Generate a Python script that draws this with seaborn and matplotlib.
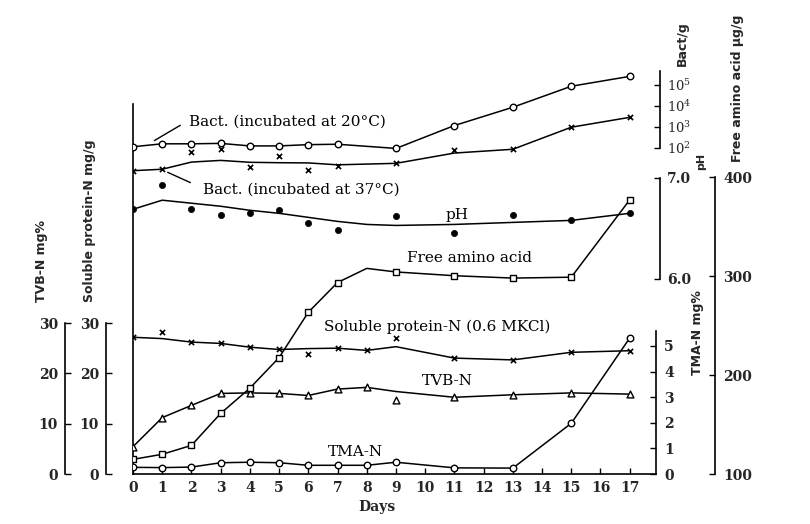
import matplotlib
matplotlib.use("Agg")
import matplotlib.pyplot as plt
import seaborn as sns
from matplotlib.ticker import NullLocator

# ---------------- data ----------------
days_a = [0, 1, 2, 3, 4, 5, 6, 7, 9, 11, 13, 15, 17]
days_b = [0, 1, 2, 3, 4, 5, 6, 7, 8, 9, 11, 13, 15, 17]

bact20_log = [2.06, 2.20, 2.20, 2.22, 2.10, 2.10, 2.16, 2.18, 1.98, 3.07, 3.94, 4.94, 5.41]
bact37_log = [0.92, 0.99, 1.80, 1.93, 1.09, 1.63, 0.97, 1.15, 1.27, 1.90, 1.94, 2.99, 3.46]
bact37_curve_log = [0.92, 0.99, 1.33, 1.41, 1.32, 1.30, 1.29, 1.20, 1.27, 1.76, 1.94, 2.99, 3.46]

ph_vals = [6.69, 6.93, 6.69, 6.63, 6.65, 6.68, 6.55, 6.48, 6.62, 6.46, 6.63, 6.58, 6.65]
ph_curve = [6.69, 6.78, 6.75, 6.72, 6.68, 6.65, 6.61, 6.57, 6.54, 6.53, 6.54, 6.56, 6.58, 6.65]

faa_vals = [114.8, 119.9, 128.9, 161.2, 186.7, 217.6, 263.4, 293.4, 304.1, 300.3, 297.9, 298.8, 376.9]
faa_curve = [114.8, 119.9, 128.9, 161.2, 186.7, 217.6, 263.4, 293.4, 307.7, 304.1, 300.3, 297.9, 298.8, 376.9]

sol_vals = [27.18, 28.25, 26.22, 25.96, 25.21, 24.75, 23.86, 25.01, 24.57, 26.98, 23.04, 22.68, 24.19, 24.51]
sol_curve = [27.18, 26.92, 26.22, 25.96, 25.21, 24.75, 24.93, 25.01, 24.57, 25.31, 23.04, 22.68, 24.19, 24.51]

tvb_vals = [5.43, 11.21, 13.64, 16.02, 16.12, 16.02, 15.61, 16.88, 17.22, 14.73, 15.25, 15.75, 16.12, 15.88]
tvb_curve = [5.43, 11.21, 13.64, 16.02, 16.12, 16.02, 15.61, 16.88, 17.22, 16.40, 15.25, 15.75, 16.12, 15.88]

tma_vals = [0.26, 0.25, 0.27, 0.44, 0.46, 0.44, 0.34, 0.34, 0.34, 0.46, 0.24, 0.23, 1.98, 5.31]

day_ticks = list(range(0, 18))
tvb_ticks = [0, 10, 20, 30]
sol_ticks = [0, 10, 20, 30]
tma_ticks = [0, 1, 2, 3, 4, 5]
ph_ticks = [6.0, 7.0]
faa_ticks = [100, 200, 300, 400]
bact_ticks = [1e2, 1e3, 1e4, 1e5]
bact_labels = [r"$10^{2}$", r"$10^{3}$", r"$10^{4}$", r"$10^{5}$"]

# ---------------- style ----------------
sns.set_theme(style="white")
plt.rcParams["font.family"] = ["DejaVu Serif", "DejaVu Sans"]
plt.rcParams["mathtext.fontset"] = "dejavuserif"

W, H = 810, 524
fig = plt.figure(figsize=(W / 100, H / 100), dpi=100)
fig.patch.set_facecolor("white")
L_px, R_px, B_px, T_px = 133, 656, 474, 60
rect = [L_px / W, 1 - B_px / H, (R_px - L_px) / W, (B_px - T_px) / H]

ax = fig.add_axes(rect, label="main")
ax.set_facecolor("none")
ax.set_xlim(0, 17.9)
ax.set_ylim(0, 82.3)

TICKFONT = dict(fontsize=10, fontweight="bold", family="DejaVu Serif")
LABFONT = dict(fontsize=9, fontweight="bold", family="DejaVu Sans")
LW = 1.1
S_OPEN = 22


def twin(name):
    a = fig.add_axes(rect, sharex=ax, label=name)
    a.patch.set_visible(False)
    for s in a.spines.values():
        s.set_visible(False)
    a.tick_params(axis="x", which="both", bottom=False, top=False,
                  labelbottom=False, labeltop=False)
    a.grid(False)
    return a


# main axis: days + vertical line at day 0
for side in ("top", "right"):
    ax.spines[side].set_visible(False)
for s in ("left", "bottom"):
    ax.spines[s].set_color("black")
    ax.spines[s].set_linewidth(1.2)
ax.spines["left"].set_bounds(0, 73.6)
ax.spines["bottom"].set_bounds(0, 17.9)
ax.set_yticks([])
ax.set_xticks(day_ticks, [str(d) for d in day_ticks], **TICKFONT)
ax.tick_params(axis="x", direction="in", length=4, width=1, pad=5,
               color="black", bottom=True)
ax.set_xlabel("Days", fontsize=10, fontweight="bold", family="DejaVu Serif",
              va="top")
ax.xaxis.set_label_coords((377 - L_px) / (R_px - L_px), -0.064)
ax.grid(False)

# ---- TVB-N (left outer) ----
a_tvb = twin("tvb")
a_tvb.set_ylim(0, 82.3)
a_tvb.spines["left"].set_visible(True)
a_tvb.spines["left"].set_position(("axes", (65 - L_px) / (R_px - L_px)))
a_tvb.spines["left"].set_bounds(0, 30)
a_tvb.spines["left"].set_color("black")
a_tvb.spines["left"].set_linewidth(1.2)
a_tvb.set_yticks(tvb_ticks, [str(t) for t in tvb_ticks], **TICKFONT)
a_tvb.tick_params(axis="y", direction="in", length=4, width=1, pad=5,
                  left=True, color="black")
a_tvb.set_ylabel("TVB-N mg%", rotation=90, ha="center", va="center", **LABFONT)
a_tvb.yaxis.set_label_coords((42 - L_px) / (R_px - L_px), (B_px - 261) / (B_px - T_px))
sns.lineplot(x=days_b, y=tvb_curve, ax=a_tvb, color="black", linewidth=LW,
             estimator=None, sort=False)
sns.scatterplot(x=days_b, y=tvb_vals, ax=a_tvb, marker="^", s=24, color="white",
                edgecolor="black", linewidth=1.0, zorder=4)

# ---- Soluble protein-N (left inner) ----
a_sol = twin("sol")
a_sol.set_ylim(0, 82.3)
a_sol.spines["left"].set_visible(True)
a_sol.spines["left"].set_position(("axes", (106 - L_px) / (R_px - L_px)))
a_sol.spines["left"].set_bounds(0, 30)
a_sol.spines["left"].set_color("black")
a_sol.spines["left"].set_linewidth(1.2)
a_sol.set_yticks(sol_ticks, [str(t) for t in sol_ticks], **TICKFONT)
a_sol.tick_params(axis="y", direction="in", length=4, width=1, pad=5,
                  left=True, color="black")
a_sol.set_ylabel("Soluble protein-N mg/g", rotation=90, ha="center", va="center", **LABFONT)
a_sol.yaxis.set_label_coords((89 - L_px) / (R_px - L_px), (B_px - 221) / (B_px - T_px))
sns.lineplot(x=days_b, y=sol_curve, ax=a_sol, color="black", linewidth=LW,
             estimator=None, sort=False)
sns.scatterplot(x=days_b, y=sol_vals, ax=a_sol, marker="x", s=14, color="black",
                linewidth=1.2, zorder=4)

# ---- TMA-N (right, at x-axis end) ----
a_tma = twin("tma")
a_tma.set_ylim(0, 16.17)
a_tma.yaxis.set_ticks_position("right")
a_tma.yaxis.set_label_position("right")
a_tma.spines["right"].set_visible(True)
a_tma.spines["right"].set_position(("axes", 1.0))
a_tma.spines["right"].set_bounds(0, 5.59)
a_tma.spines["right"].set_color("black")
a_tma.spines["right"].set_linewidth(1.2)
a_tma.set_yticks(tma_ticks, [str(t) for t in tma_ticks], **TICKFONT)
a_tma.tick_params(axis="y", direction="in", length=4, width=1, pad=6,
                  right=True, left=False, color="black")
a_tma.set_ylabel("TMA-N mg%", rotation=90, ha="center", va="center", **LABFONT)
a_tma.yaxis.set_label_coords((697 - L_px) / (R_px - L_px), (B_px - 333) / (B_px - T_px))
sns.lineplot(x=days_b, y=tma_vals, ax=a_tma, color="black", linewidth=LW,
             estimator=None, sort=False)
sns.scatterplot(x=days_b, y=tma_vals, ax=a_tma, marker="o", s=S_OPEN, color="white",
                edgecolor="black", linewidth=1.0, zorder=4)

# ---- pH (right) ----
a_ph = twin("ph")
a_ph.set_ylim(4.069, 8.168)
a_ph.yaxis.set_ticks_position("right")
a_ph.yaxis.set_label_position("right")
a_ph.spines["right"].set_visible(True)
a_ph.spines["right"].set_position(("axes", (660 - L_px) / (R_px - L_px)))
a_ph.spines["right"].set_bounds(6.0, 7.0)
a_ph.spines["right"].set_color("black")
a_ph.spines["right"].set_linewidth(1.2)
a_ph.set_yticks(ph_ticks, ["%.1f" % t for t in ph_ticks], **TICKFONT)
a_ph.tick_params(axis="y", direction="in", length=4, width=1, pad=5,
                 right=True, left=False, color="black")
a_ph.set_ylabel("pH", rotation=90, ha="center", va="center", fontsize=8,
                fontweight="bold", family="DejaVu Sans")
a_ph.yaxis.set_label_coords((701 - L_px) / (R_px - L_px), (B_px - 161) / (B_px - T_px))
sns.lineplot(x=days_b, y=ph_curve, ax=a_ph, color="black", linewidth=LW,
             estimator=None, sort=False)
sns.scatterplot(x=days_a, y=ph_vals, ax=a_ph, marker="o", s=20, color="black",
                edgecolor="black", linewidth=0.5, zorder=4)

# ---- Free amino acid (right outer) ----
a_faa = twin("faa")
a_faa.set_ylim(100, 518.2)
a_faa.yaxis.set_ticks_position("right")
a_faa.yaxis.set_label_position("right")
a_faa.spines["right"].set_visible(True)
a_faa.spines["right"].set_position(("axes", (715 - L_px) / (R_px - L_px)))
a_faa.spines["right"].set_bounds(100, 400)
a_faa.spines["right"].set_color("black")
a_faa.spines["right"].set_linewidth(1.2)
a_faa.set_yticks(faa_ticks, [str(t) for t in faa_ticks], **TICKFONT)
a_faa.tick_params(axis="y", direction="in", length=4, width=1, pad=6,
                  right=True, left=False, color="black")
a_faa.set_ylabel("Free amino acid \u03bcg/g", rotation=90, ha="center", va="center", **LABFONT)
a_faa.yaxis.set_label_coords((737 - L_px) / (R_px - L_px), (B_px - 88) / (B_px - T_px))
sns.lineplot(x=days_b, y=faa_curve, ax=a_faa, color="black", linewidth=LW,
             estimator=None, sort=False)
sns.scatterplot(x=days_a, y=faa_vals, ax=a_faa, marker="s", s=20, color="white",
                edgecolor="black", linewidth=1.0, zorder=4)

# ---- Bacteria (log, right top) ----
a_b = twin("bact")
a_b.set_yscale("log")
a_b.set_ylim(10 ** -13.52, 10 ** 6.19)
a_b.yaxis.set_ticks_position("right")
a_b.yaxis.set_label_position("right")
a_b.spines["right"].set_visible(True)
a_b.spines["right"].set_position(("axes", (660 - L_px) / (R_px - L_px)))
a_b.spines["right"].set_bounds(1e2, 10 ** 5.67)
a_b.spines["right"].set_color("black")
a_b.spines["right"].set_linewidth(1.2)
a_b.set_yticks(bact_ticks, bact_labels, fontsize=9.5, fontweight="bold")
a_b.yaxis.set_minor_locator(NullLocator())
a_b.tick_params(axis="y", direction="in", length=4, width=1, pad=5,
                right=True, left=False, color="black")
a_b.set_ylabel("Bact/g", rotation=90, ha="center", va="center", **LABFONT)
a_b.yaxis.set_label_coords((682 - L_px) / (R_px - L_px), (B_px - 44) / (B_px - T_px))
bact20 = [10 ** v for v in bact20_log]
bact37 = [10 ** v for v in bact37_log]
bact37_curve = [10 ** v for v in bact37_curve_log]
sns.lineplot(x=days_a, y=bact20, ax=a_b, color="black", linewidth=LW,
             estimator=None, sort=False)
sns.scatterplot(x=days_a, y=bact20, ax=a_b, marker="o", s=S_OPEN, color="white",
                edgecolor="black", linewidth=1.0, zorder=4)
sns.lineplot(x=days_a, y=bact37_curve, ax=a_b, color="black", linewidth=LW,
             estimator=None, sort=False)
sns.scatterplot(x=days_a, y=bact37, ax=a_b, marker="x", s=14, color="black",
                linewidth=1.2, zorder=4)

for a in (a_tvb, a_sol, a_tma, a_ph, a_faa, a_b):
    a.set_xlabel("")

# ---------------- annotations (main axis coordinates) ----------------
ANN = dict(fontsize=11, family="DejaVu Serif", color="black")
ax.text(1.92, 70.0, "Bact. (incubated at 20\u00b0C)", ha="left", va="center", **ANN)
ax.annotate("", xy=(0.65, 66.0), xytext=(1.70, 69.6),
            arrowprops=dict(arrowstyle="-", lw=1.0, color="black"))
ax.text(2.40, 56.5, "Bact. (incubated at 37\u00b0C)", ha="left", va="center", **ANN)
ax.annotate("", xy=(1.10, 60.2), xytext=(2.05, 57.7),
            arrowprops=dict(arrowstyle="-", lw=1.0, color="black"))
ax.text(11.1, 51.5, "pH", ha="center", va="center", **ANN)
ax.text(9.38, 42.9, "Free amino acid", ha="left", va="center", **ANN)
ax.text(6.54, 29.2, "Soluble protein-N (0.6 MKCl)", ha="left", va="center", **ANN)
ax.text(9.9, 18.5, "TVB-N", ha="left", va="center", **ANN)
ax.text(6.68, 4.4, "TMA-N", ha="left", va="center", **ANN)

fig.savefig("out.png", dpi=100, facecolor="white")
